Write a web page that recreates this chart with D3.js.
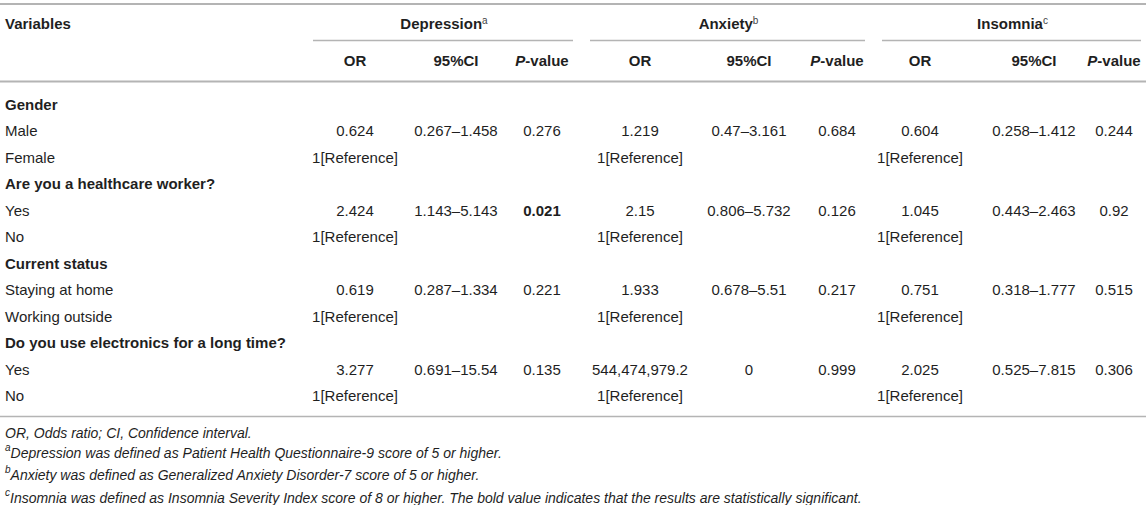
<!DOCTYPE html>
<html><head><meta charset="utf-8">
<script src="https://cdn.jsdelivr.net/npm/d3@7"></script>
<style>
html,body{margin:0;padding:0;background:#fff;}
svg{display:block;font-family:"Liberation Sans",Arial,Helvetica,sans-serif;}
</style></head>
<body>
<svg id="chart" width="1146" height="505"></svg>
<script>
// ---- data ----
const outcomes = ["Depression", "Anxiety", "Insomnia"];
const outcomeSup = ["a", "b", "c"];
const statHeaders = ["OR", "95%CI", "P-value"];
const rowLabels = ["Gender", "Male", "Female", "Are you a healthcare worker?", "Yes", "No",
  "Current status", "Staying at home", "Working outside",
  "Do you use electronics for a long time?", "Yes", "No"];
const sectionRows = [true, false, false, true, false, false, true, false, false, true, false, false];
const depressionValues = [
  ["", "", ""], ["0.624", "0.267–1.458", "0.276"], ["1[Reference]", "", ""],
  ["", "", ""], ["2.424", "1.143–5.143", "0.021"], ["1[Reference]", "", ""],
  ["", "", ""], ["0.619", "0.287–1.334", "0.221"], ["1[Reference]", "", ""],
  ["", "", ""], ["3.277", "0.691–15.54", "0.135"], ["1[Reference]", "", ""]];
const anxietyValues = [
  ["", "", ""], ["1.219", "0.47–3.161", "0.684"], ["1[Reference]", "", ""],
  ["", "", ""], ["2.15", "0.806–5.732", "0.126"], ["1[Reference]", "", ""],
  ["", "", ""], ["1.933", "0.678–5.51", "0.217"], ["1[Reference]", "", ""],
  ["", "", ""], ["544,474,979.2", "0", "0.999"], ["1[Reference]", "", ""]];
const insomniaValues = [
  ["", "", ""], ["0.604", "0.258–1.412", "0.244"], ["1[Reference]", "", ""],
  ["", "", ""], ["1.045", "0.443–2.463", "0.92"], ["1[Reference]", "", ""],
  ["", "", ""], ["0.751", "0.318–1.777", "0.515"], ["1[Reference]", "", ""],
  ["", "", ""], ["2.025", "0.525–7.815", "0.306"], ["1[Reference]", "", ""]];
const boldCells = [["Depression", 4, 2]];
const footnotes = [
  {sup: "", text: "OR, Odds ratio; CI, Confidence interval."},
  {sup: "a", text: "Depression was defined as Patient Health Questionnaire-9 score of 5 or higher."},
  {sup: "b", text: "Anxiety was defined as Generalized Anxiety Disorder-7 score of 5 or higher."},
  {sup: "c", text: "Insomnia was defined as Insomnia Severity Index score of 8 or higher. The bold value indicates that the results are statistically significant."}];

// ---- layout ----
const svg = d3.select("#chart");
const W = 1146;
const textColor = "#1f1f1f", ruleColor = "#b4b4b4";
const fs = 15;
const colKeys = [];
outcomes.forEach(o => statHeaders.forEach(s => colKeys.push(o + "|" + s)));
const x = d3.scaleOrdinal().domain(colKeys).range([355, 456, 542, 640, 749, 837, 920, 1034, 1114]);
const groupSpan = d3.scaleOrdinal().domain(outcomes).range([[313, 573], [590, 865], [882, 1141]]);
const y = d3.scaleBand().domain(d3.range(rowLabels.length)).range([91, 91 + 26.5 * rowLabels.length]);
const rowMid = i => y(i) + y.bandwidth() / 2;
const valueSets = {Depression: depressionValues, Anxiety: anxietyValues, Insomnia: insomniaValues};

// rules
const rule = (x1, x2, yy, w) => svg.append("line").attr("x1", x1).attr("x2", x2)
  .attr("y1", yy).attr("y2", yy).attr("stroke", ruleColor).attr("stroke-width", w);
rule(0, W, 4, 2);
rule(0, W, 81.5, 2);
rule(0, W, 416.5, 1.5);
outcomes.forEach(o => { const s = groupSpan(o); rule(s[0], s[1], 40.5, 1.3); });

// header
svg.append("text").attr("x", 5).attr("y", 24).attr("dy", "0.35em")
  .attr("font-size", fs).attr("font-weight", "bold").attr("fill", textColor).text("Variables");
outcomes.forEach((o, k) => {
  const s = groupSpan(o);
  const t = svg.append("text").attr("x", (s[0] + s[1]) / 2 + 1).attr("y", 24).attr("dy", "0.35em")
    .attr("text-anchor", "middle").attr("font-size", fs).attr("fill", textColor);
  t.append("tspan").attr("font-weight", "bold").text(o);
  t.append("tspan").attr("font-size", 10).attr("dy", "-0.55em").attr("fill", "#444").text(outcomeSup[k]);
});
outcomes.forEach(o => statHeaders.forEach(s => {
  const t = svg.append("text").attr("x", x(o + "|" + s)).attr("y", 61).attr("dy", "0.35em")
    .attr("text-anchor", "middle").attr("font-size", fs).attr("font-weight", "bold").attr("fill", textColor);
  if (s === "P-value") {
    t.append("tspan").attr("font-style", "italic").text("P");
    t.append("tspan").text("-value");
  } else t.text(s);
}));

// row labels
svg.append("g").selectAll("text").data(rowLabels).join("text")
  .attr("x", 5).attr("y", (d, i) => rowMid(i)).attr("dy", "0.35em")
  .attr("font-size", fs).attr("font-weight", (d, i) => sectionRows[i] ? "bold" : "normal")
  .attr("fill", textColor).text(d => d);

// cells
outcomes.forEach(o => {
  const cells = [];
  valueSets[o].forEach((row, i) => row.forEach((v, j) => { if (v) cells.push({i, j, v}); }));
  svg.append("g").selectAll("text").data(cells).join("text")
    .attr("x", d => x(o + "|" + statHeaders[d.j]))
    .attr("y", d => rowMid(d.i)).attr("dy", "0.35em")
    .attr("text-anchor", "middle").attr("font-size", fs).attr("fill", textColor)
    .attr("font-weight", d => boldCells.some(b => b[0] === o && b[1] === d.i && b[2] === d.j) ? "bold" : "normal")
    .text(d => d.v);
});

// footnotes
const fy = d3.scaleBand().domain(d3.range(footnotes.length)).range([422, 422 + 22.5 * footnotes.length]);
footnotes.forEach((f, i) => {
  const t = svg.append("text").attr("x", 5).attr("y", fy(i) + fy.bandwidth() / 2).attr("dy", "0.35em")
    .attr("font-size", 14).attr("font-style", "italic").attr("fill", textColor);
  if (f.sup) t.append("tspan").attr("font-size", 10).attr("dy", "-0.5em").text(f.sup);
  t.append("tspan").attr("dy", f.sup ? "0.5em" : null).text(f.text);
});
</script>
</body></html>
